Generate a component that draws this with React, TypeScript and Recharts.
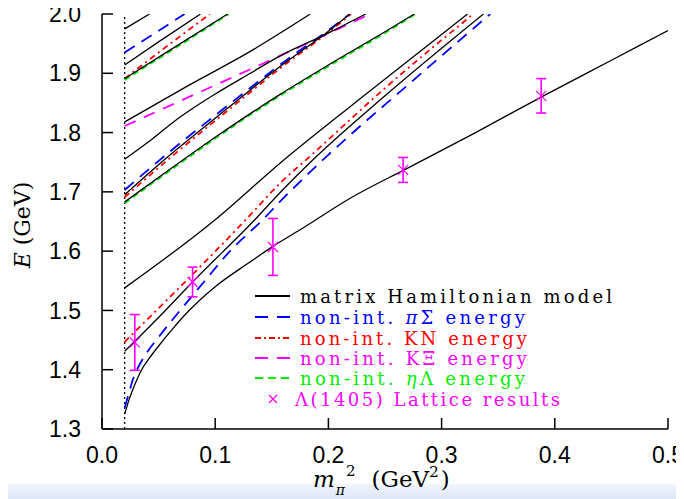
import React from 'react';
import { ComposedChart, Line, Scatter, ErrorBar, XAxis, YAxis, ReferenceLine, Legend } from 'recharts';

// x = m_pi^2 (GeV^2), y = E (GeV)
const xTicks = [0, 0.1, 0.2, 0.3, 0.4, 0.5];
const yTicks = [1.3, 1.4, 1.5, 1.6, 1.7, 1.8, 1.9, 2.0];
const physicalPoint = 0.02;

// matrix Hamiltonian model levels (black)
const level0 = [[0.02, 1.325], [0.024, 1.35], [0.029, 1.375], [0.035, 1.4], [0.042, 1.42], [0.05, 1.44], [0.062, 1.468], [0.075, 1.496], [0.1, 1.54], [0.131, 1.582], [0.151, 1.608], [0.175, 1.636], [0.22, 1.69], [0.27, 1.74], [0.33, 1.8], [0.39, 1.862], [0.45, 1.922], [0.5, 1.972]];
const level1 = [[0.02, 1.431], [0.056, 1.5], [0.08, 1.548], [0.135, 1.653], [0.157, 1.698], [0.188, 1.757], [0.25, 1.862], [0.337, 2.0]];
const level2 = [[0.02, 1.538], [0.1, 1.653], [0.157, 1.748], [0.24, 1.875], [0.323, 2.0]];
const level3 = [[0.02, 1.683], [0.06, 1.738], [0.1, 1.792], [0.131, 1.832], [0.157, 1.864], [0.2, 1.914], [0.25, 1.97], [0.276, 2.0]];
const level4 = [[0.02, 1.695], [0.06, 1.762], [0.1, 1.824], [0.131, 1.872], [0.157, 1.911], [0.198, 1.968], [0.219, 2.0]];
const level5 = [[0.02, 1.755], [0.045, 1.79], [0.066, 1.822], [0.078, 1.838], [0.1, 1.865], [0.131, 1.9], [0.157, 1.929], [0.198, 1.966], [0.233, 2.0]];
const level6 = [[0.02, 1.818], [0.075, 1.878], [0.131, 1.937], [0.184, 2.0]];
const level7 = [[0.02, 1.891], [0.06, 1.939], [0.111, 2.0]];
const level8 = [[0.02, 1.914], [0.05, 1.953], [0.087, 2.0]];
const level9 = [[0.02, 1.975], [0.042, 2.0]];

// non-interacting two-particle energies
const piSigma = [
  [[0.02, 1.336], [0.024, 1.362], [0.027, 1.382], [0.031, 1.4], [0.04, 1.43], [0.05, 1.455], [0.069, 1.5], [0.09, 1.548], [0.113, 1.6], [0.142, 1.653], [0.157, 1.683], [0.198, 1.759], [0.27, 1.88], [0.343, 2.0]],
  [[0.02, 1.703], [0.06, 1.768], [0.1, 1.829], [0.126, 1.868], [0.157, 1.914], [0.198, 1.97], [0.219, 2.0]],
  [[0.02, 1.935], [0.073, 2.0]],
];
const kaonNucleon = [
  [[0.02, 1.447], [0.048, 1.5], [0.09, 1.58], [0.128, 1.655], [0.157, 1.714], [0.185, 1.762], [0.25, 1.875], [0.328, 2.0]],
  [[0.02, 1.691], [0.06, 1.757], [0.1, 1.82], [0.131, 1.868], [0.157, 1.908], [0.198, 1.966], [0.22, 2.0]],
  [[0.02, 1.891], [0.05, 1.935], [0.0954, 2.0]],
];
const kaonXi = [
  [[0.02, 1.811], [0.1, 1.88], [0.175, 1.945], [0.237, 2.0]],
];
const etaLambda = [
  [[0.02, 1.681], [0.06, 1.736], [0.1, 1.79], [0.131, 1.83], [0.157, 1.862], [0.2, 1.912], [0.25, 1.968], [0.277, 2.0]],
  [[0.02, 1.889], [0.06, 1.937], [0.112, 2.0]],
];

// lattice results for Lambda(1405)
const latticeX = [0.029, 0.080, 0.151, 0.266, 0.388];
const latticeE = [1.446, 1.548, 1.607, 1.737, 1.862];
const latticeErr = [0.047, 0.025, 0.048, 0.021, 0.029];

const legendLabels = ['matrix Hamiltonian model', 'non-int. \u03C0\u03A3 energy', 'non-int. KN energy', 'non-int. K\u039E energy', 'non-int. \u03B7\u039B energy', '\u039B(1405) Lattice results'];

const blackLevels = [level0, level1, level2, level3, level4, level5, level6, level7, level8, level9];
const toPoints = (pairs: number[][]) => pairs.map(([x, y]) => ({ x, y }));
const lattice = latticeX.map((x, i) => ({ x, y: latticeE[i], err: latticeErr[i] }));

const BLUE = '#0000ff';
const RED = '#ff0000';
const MAGENTA = '#ff00ff';
const GREEN = '#00ee00';

const tickFont = { fontFamily: '"Liberation Sans", Arial, sans-serif', fontSize: 23, fill: '#000' };
const serif = '"DejaVu Serif", serif';

const Cross = (props: any) => {
  const { cx, cy } = props;
  const s = 5;
  return (
    <g stroke={MAGENTA} strokeWidth={1.2}>
      <line x1={cx - s} y1={cy - s} x2={cx + s} y2={cy + s} />
      <line x1={cx - s} y1={cy + s} x2={cx + s} y2={cy - s} />
    </g>
  );
};

// legend label with the greek particle letter in italics
const renderLabel = (label: string) => {
  const m = label.match(/^(non-int\. )([\u03C0\u03B7])(.*)$/);
  if (!m) return label;
  return (<>{m[1]}<tspan fontStyle="italic">{m[2]}</tspan>{m[3]}</>);
};

const renderLegend = () => {
  const rows = [12, 33, 54, 74, 94, 115];
  const samples = [
    { color: '#000', dash: undefined },
    { color: BLUE, dash: '13 9' },
    { color: RED, dash: '6 3 2 3' },
    { color: MAGENTA, dash: '13 9' },
    { color: GREEN, dash: '8 5' },
  ];
  const widths = [312, 225, 227, 227, 225, 265];
  const colors = ['#000', BLUE, RED, MAGENTA, GREEN, MAGENTA];
  return (
    <svg width={400} height={134} style={{ overflow: 'visible' }}>
      {samples.map((s, i) => (
        <line key={i} x1={5} x2={40} y1={rows[i]} y2={rows[i]} stroke={s.color} strokeWidth={2} strokeDasharray={s.dash} />
      ))}
      <g stroke={MAGENTA} strokeWidth={1.2}>
        <line x1={19} y1={rows[5] - 4} x2={27} y2={rows[5] + 4} />
        <line x1={19} y1={rows[5] + 4} x2={27} y2={rows[5] - 4} />
      </g>
      {legendLabels.map((label, i) => (
        <text key={i} x={i === 5 ? 45 : 50} y={rows[i] + 6.5} fill={colors[i]} fontFamily={serif} fontSize={18}
          textLength={widths[i]} lengthAdjust="spacing">
          {renderLabel(label)}
        </text>
      ))}
    </svg>
  );
};

const XTitle = () => (
  <text x={305} y={479} fontFamily={serif} fontSize={23} fill="#000">
    <tspan fontStyle="italic">m</tspan>
    <tspan dy={8} dx={1} fontSize={14} fontStyle="italic">π</tspan>
    <tspan dy={-19} dx={1} fontSize={15}>2</tspan>
    <tspan dy={11} dx={16}>(GeV</tspan>
    <tspan dy={-10} fontSize={15}>2</tspan>
    <tspan dy={10} dx={2}>)</tspan>
  </text>
);

const YTitle = () => (
  <text transform="translate(22, 217) rotate(-90)" textAnchor="middle" fontFamily={serif} fontSize={22} fill="#000">
    <tspan fontStyle="italic">E</tspan> (GeV)
  </text>
);

export default function App() {
  return (
    <div style={{ position: 'relative', width: 676, height: 491 }}>
      <div style={{ position: 'absolute', left: -8, top: 476, width: 684, height: 15, background: 'linear-gradient(#f1f5fc, #dce7f7)' }} />
      <div style={{ position: 'absolute', left: 265, top: -6, width: 214, height: 1.5, background: '#6a88e6' }} />
      <ComposedChart width={676} height={491} margin={{ top: 6, right: 16, left: 34, bottom: 30 }}>
        <XAxis dataKey="x" type="number" domain={[0, 0.5]} ticks={xTicks} interval={0} allowDataOverflow
          tickFormatter={(v: number) => v.toFixed(1)} tick={tickFont} tickSize={-11} tickMargin={29} height={40}
          stroke="#000" strokeWidth={1.5} label={{ content: () => <XTitle /> }} />
        <XAxis xAxisId="top" orientation="top" type="number" domain={[0, 0.5]} ticks={xTicks} interval={0} allowDataOverflow
          tick={() => null} tickSize={-11} height={0} stroke="#000" strokeWidth={1.5} />
        <YAxis dataKey="y" type="number" domain={[1.3, 2.0]} ticks={yTicks} interval={0} allowDataOverflow
          tickFormatter={(v: number) => v.toFixed(1)} tick={tickFont} tickSize={-11} tickMargin={32} width={60}
          stroke="#000" strokeWidth={1.5} label={{ content: () => <YTitle /> }} />
        <YAxis yAxisId="right" orientation="right" type="number" domain={[1.3, 2.0]} ticks={yTicks} interval={0} allowDataOverflow
          tick={() => null} tickSize={-11} width={0} stroke="#000" strokeWidth={1.5} />
        <ReferenceLine x={physicalPoint} stroke="#000" strokeWidth={1.3} strokeDasharray="2 3" />
        {piSigma.map((c, i) => (
          <Line key={'ps' + i} data={toPoints(c)} dataKey="y" type="monotone" stroke={BLUE} strokeWidth={1.8}
            strokeDasharray="12 8" dot={false} activeDot={false} isAnimationActive={false} legendType="none" />
        ))}
        {kaonNucleon.map((c, i) => (
          <Line key={'kn' + i} data={toPoints(c)} dataKey="y" type="monotone" stroke={RED} strokeWidth={1.8}
            strokeDasharray="6 4 2 4" dot={false} activeDot={false} isAnimationActive={false} legendType="none" />
        ))}
        {kaonXi.map((c, i) => (
          <Line key={'kx' + i} data={toPoints(c)} dataKey="y" type="monotone" stroke={MAGENTA} strokeWidth={1.8}
            strokeDasharray="12 9" dot={false} activeDot={false} isAnimationActive={false} legendType="none" />
        ))}
        {etaLambda.map((c, i) => (
          <Line key={'el' + i} data={toPoints(c)} dataKey="y" type="monotone" stroke={GREEN} strokeWidth={2}
            strokeDasharray="6 4" dot={false} activeDot={false} isAnimationActive={false} legendType="none" />
        ))}
        {blackLevels.map((c, i) => (
          <Line key={'lv' + i} data={toPoints(c)} dataKey="y" type="monotone" stroke="#000" strokeWidth={1.3}
            dot={false} activeDot={false} isAnimationActive={false} legendType="none" />
        ))}
        <Scatter data={lattice} dataKey="y" shape={Cross} isAnimationActive={false} legendType="none">
          <ErrorBar dataKey="err" direction="y" width={5} stroke={MAGENTA} strokeWidth={1.6} isAnimationActive={false} />
        </Scatter>
        <Legend content={renderLegend} layout="vertical" align="center" verticalAlign="middle"
          wrapperStyle={{ left: 242, top: 276, width: 400, height: 134 }} />
      </ComposedChart>
    </div>
  );
}
